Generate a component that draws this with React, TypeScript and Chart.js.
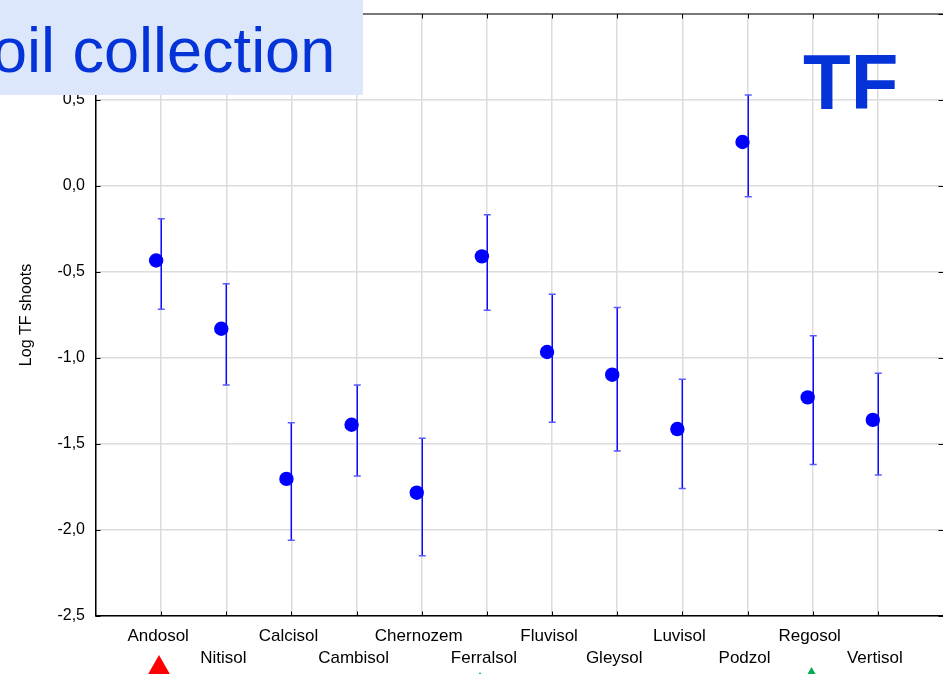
import React, { useEffect, useRef } from 'react';
import { Chart, registerables } from 'chart.js';

Chart.register(...registerables);

// ---- data ----
const categories = [
  'Andosol', 'Nitisol', 'Calcisol', 'Cambisol', 'Chernozem', 'Ferralsol',
  'Fluvisol', 'Gleysol', 'Luvisol', 'Podzol', 'Regosol', 'Vertisol',
];
const means = [-0.433, -0.83, -1.703, -1.388, -1.783, -0.409, -0.965, -1.097, -1.413, 0.256, -1.229, -1.36];
const upperBound = [-0.19, -0.568, -1.376, -1.157, -1.467, -0.167, -0.63, -0.706, -1.124, 0.529, -0.87, -1.089];
const lowerBound = [-0.717, -1.157, -2.06, -1.686, -2.149, -0.723, -1.374, -1.541, -1.758, -0.062, -1.619, -1.68];
const yMin = -2.5;
const yMax = 1.0;
const yStep = 0.5;
const yAxisTitle = 'Log TF shoots';
const bannerText = 'Soil collection';
const badgeText = 'TF';

const FONT = "'Liberation Sans', Arial, Helvetica, sans-serif";
const POINT_SHIFT = -0.077; // markers sit slightly left of their error bars
const BLUE = '#0000ff';
const SLIDE_BLUE = '#0433d8';
const GRID = '#dcdcdc';

const decorPlugin = {
  id: 'decor',
  beforeDatasetsDraw(chart: any) {
    const { ctx, scales } = chart;
    const x = scales.x;
    const y = scales.y;
    ctx.save();
    categories.forEach((_, i) => {
      const px = Math.round(x.getPixelForValue(i + 1)) + 0.25;
      const pt = y.getPixelForValue(upperBound[i]);
      const pb = y.getPixelForValue(lowerBound[i]);
      ctx.strokeStyle = BLUE;
      ctx.lineWidth = 1.4;
      ctx.beginPath();
      ctx.moveTo(px, pt);
      ctx.lineTo(px, pb);
      ctx.stroke();
      ctx.strokeStyle = '#5a5aff';
      ctx.lineWidth = 1.5;
      ctx.beginPath();
      ctx.moveTo(px - 3.5, pt);
      ctx.lineTo(px + 3.5, pt);
      ctx.moveTo(px - 3.5, pb);
      ctx.lineTo(px + 3.5, pb);
      ctx.stroke();
    });
    ctx.restore();
  },
  afterDraw(chart: any) {
    const { ctx, chartArea, scales } = chart;
    const x = scales.x;
    const y = scales.y;
    const { left, right, top, bottom } = chartArea;
    ctx.save();
    // top border
    ctx.strokeStyle = '#555555';
    ctx.lineWidth = 1.5;
    ctx.beginPath();
    ctx.moveTo(left, top);
    ctx.lineTo(right, top);
    ctx.stroke();
    // inner tick marks
    ctx.strokeStyle = '#000000';
    ctx.lineWidth = 1;
    ctx.beginPath();
    for (let i = 1; i <= categories.length; i++) {
      const px = Math.round(x.getPixelForValue(i)) + 0.5;
      ctx.moveTo(px, bottom);
      ctx.lineTo(px, bottom - 4.5);
      ctx.moveTo(px, top);
      ctx.lineTo(px, top + 4.5);
    }
    for (let v = yMin; v <= yMax + 1e-9; v += yStep) {
      const py = Math.round(y.getPixelForValue(v)) + 0.5;
      ctx.moveTo(left, py);
      ctx.lineTo(left + 4.5, py);
      ctx.moveTo(right, py);
      ctx.lineTo(right - 4.5, py);
    }
    ctx.stroke();

    // slide overlay: banner
    ctx.fillStyle = '#dde7fb';
    ctx.fillRect(0, 0, 363, 95);
    ctx.fillStyle = SLIDE_BLUE;
    ctx.font = `63px ${FONT}`;
    ctx.textAlign = 'left';
    ctx.textBaseline = 'alphabetic';
    ctx.fillText(bannerText, -50, 72);
    // badge
    ctx.font = `bold 78px ${FONT}`;
    ctx.fillText(badgeText, 803, 109);

    // triangles at bottom
    ctx.fillStyle = '#ff0000';
    ctx.beginPath();
    ctx.moveTo(159, 655);
    ctx.lineTo(159 + 20, 690);
    ctx.lineTo(159 - 20, 690);
    ctx.closePath();
    ctx.fill();
    ctx.fillStyle = '#00b050';
    ctx.beginPath();
    ctx.moveTo(811.5, 667);
    ctx.lineTo(811.5 + 16, 695);
    ctx.lineTo(811.5 - 16, 695);
    ctx.closePath();
    ctx.fill();
    ctx.beginPath();
    ctx.moveTo(480, 672);
    ctx.lineTo(480 + 12, 694);
    ctx.lineTo(480 - 12, 694);
    ctx.closePath();
    ctx.fill();
    ctx.restore();
  },
};

export default function App() {
  const canvasRef = useRef<HTMLCanvasElement | null>(null);

  useEffect(() => {
    if (!canvasRef.current) return;
    const points = means.map((m, i) => ({ x: i + 1 + POINT_SHIFT, y: m }));
    const chart = new Chart(canvasRef.current, {
      type: 'scatter',
      data: {
        datasets: [
          {
            data: points,
            backgroundColor: BLUE,
            borderColor: BLUE,
            borderWidth: 0,
            pointRadius: 7.2,
            pointHoverRadius: 7.2,
            showLine: false,
          },
        ],
      },
      options: {
        responsive: false,
        animation: false,
        devicePixelRatio: 1,
        layout: { autoPadding: false, padding: { top: 14, right: -1, bottom: 0, left: 0 } },
        plugins: {
          legend: { display: false },
          tooltip: { enabled: false },
        },
        scales: {
          x: {
            type: 'linear',
            min: 0,
            max: categories.length + 1,
            afterFit: (s: any) => {
              s.height = 58;
              s.paddingLeft = 0;
              s.paddingRight = 0;
            },
            ticks: {
              stepSize: 1,
              autoSkip: false,
              maxRotation: 0,
              minRotation: 0,
              padding: 9,
              labelOffset: -3,
              color: '#000000',
              font: { family: FONT, size: 17, lineHeight: 1.3 },
              callback: (value: any) => {
                const i = Math.round(Number(value)) - 1;
                if (i < 0 || i >= categories.length) return '';
                return i % 2 === 0 ? [categories[i]] : ['', categories[i]];
              },
            },
            grid: {
              color: (c: any) => (c.tick && c.tick.value === categories.length + 1 ? 'rgba(0,0,0,0)' : GRID),
              lineWidth: 1.5,
              drawTicks: false,
            },
            border: { display: true, color: '#000000', width: 1.5 },
          },
          y: {
            type: 'linear',
            min: yMin,
            max: yMax,
            afterFit: (s: any) => {
              s.width = 96;
              s.paddingTop = 0;
              s.paddingBottom = 0;
            },
            ticks: {
              stepSize: yStep,
              padding: 11,
              color: '#000000',
              font: { family: FONT, size: 16 },
              callback: (value: any) => Number(value).toFixed(1).replace('.', ','),
            },
            grid: { color: GRID, lineWidth: 1.5, drawTicks: false },
            border: { display: true, color: '#000000', width: 1.5 },
            title: {
              display: true,
              text: yAxisTitle,
              color: '#000000',
              font: { family: FONT, size: 16, lineHeight: 1.2 },
              padding: { top: 16.5, bottom: 0 },
            },
          },
        },
      },
      plugins: [decorPlugin],
    });
    return () => chart.destroy();
  }, []);

  return (
    <div style={{ position: 'absolute', left: 0, top: 0, width: 943, height: 674, background: '#ffffff' }}>
      <canvas ref={canvasRef} width={943} height={674} style={{ display: 'block' }} />
    </div>
  );
}
